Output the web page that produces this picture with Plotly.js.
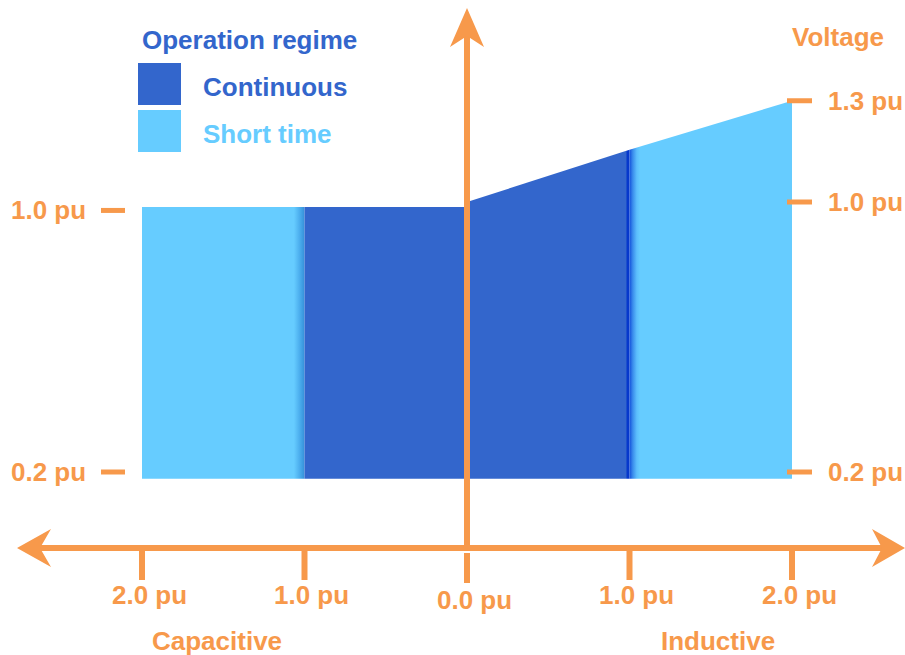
<!DOCTYPE html>
<html><head><meta charset="utf-8">
<script src="https://cdn.plot.ly/plotly-3.0.1.min.js"></script>
<style>html,body{margin:0;padding:0;background:#fff}#chart{width:905px;height:655px}</style>
</head><body><div id="chart"></div>
<script>
// ---- data (pu) ----
const regimeNames = ['Continuous', 'Short time'];
const regimeColors = ['#3366CC', '#66CCFF'];

// operating regions: current (negative = capacitive) vs voltage
const capShortX = [-2.0, -1.0, -1.0, -2.0];
const capShortY = [0.18, 0.18, 0.985, 0.985];
const capContX  = [-1.0, 0.0, 0.0, -1.0];
const capContY  = [0.18, 0.18, 0.985, 0.985];
const indContX  = [0.0, 1.0, 1.0, 0.0];
const indContY  = [0.18, 0.18, 1.155, 1.0];
const indShortX = [1.0, 2.0, 2.0, 1.0];
const indShortY = [0.18, 0.18, 1.3, 1.155];

const currentTickVals = [-2, -1, 0, 1, 2];
const currentTickText = ['2.0 pu', '1.0 pu', '0.0 pu', '1.0 pu', '2.0 pu'];
const leftVoltTickVals = [0.975, 0.2];
const leftVoltTickText = ['1.0 pu', '0.2 pu'];
const rightVoltTickVals = [1.3, 1.0, 0.2];
const rightVoltTickText = ['1.3 pu', '1.0 pu', '0.2 pu'];
const sideLabels = ['Capacitive', 'Inductive'];
const voltageLabel = 'Voltage';
const legendTitle = 'Operation regime';

// ---- layout helpers ----
const W = 905, H = 655;
const ORANGE = '#F7994B';
const FONT = 'Liberation Sans, Arial, Helvetica, sans-serif';
const FS = 26;
const px = v => v / W;            // pixel -> paper x
const py = v => 1 - v / H;        // pixel -> paper y
const P = (x, y) => px(x) + ',' + py(y);

function region(x, y, color, grad) {
  return {
    type: 'scatter', mode: 'lines', x: x, y: y, fill: 'toself',
    fillcolor: color, line: {width: 0, color: color},
    fillgradient: {type: 'horizontal', colorscale: grad},
    hoverinfo: 'skip', showlegend: false
  };
}

const traces = [
  region(capShortX, capShortY, regimeColors[1],
    [[0, '#66CCFF'], [0.935, '#66CCFF'], [0.965, '#4FB2F0'], [1, '#3590DA']]),
  region(capContX, capContY, regimeColors[0],
    [[0, '#3366CC'], [1, '#3366CC']]),
  region(indContX, indContY, regimeColors[0],
    [[0, '#3366CC'], [0.978, '#3366CC'], [0.985, '#0638CC'], [1, '#0638CC']]),
  region(indShortX, indShortY, regimeColors[1],
    [[0, '#1450DA'], [0.02, '#3A8CEC'], [0.045, '#5CBEFC'], [0.065, '#66CCFF'], [1, '#66CCFF']])
];

const shapes = [];
const ann = [];
const lineStyle = (w) => ({color: ORANGE, width: w});
const txt = (s, color) => ({text: '<b>' + s + '</b>', showarrow: false, yanchor: 'middle',
  font: {family: FONT, size: FS, color: color || ORANGE}});

// vertical (voltage) axis with arrow
shapes.push({type: 'line', xref: 'x', yref: 'paper', x0: 0, x1: 0, y0: py(546), y1: py(34), line: lineStyle(6)});
shapes.push({type: 'path', xref: 'paper', yref: 'paper',
  path: 'M' + P(467, 8) + ' L' + P(450, 47) + ' L' + P(467, 36) + ' L' + P(484, 47) + ' Z',
  fillcolor: ORANGE, line: {width: 0}});
// horizontal (current) axis with arrows
shapes.push({type: 'line', xref: 'paper', yref: 'paper', x0: px(38), x1: px(884), y0: py(548), y1: py(548), line: lineStyle(6)});
shapes.push({type: 'path', xref: 'paper', yref: 'paper',
  path: 'M' + P(17, 548) + ' L' + P(51, 529) + ' L' + P(40, 548) + ' L' + P(51, 567) + ' Z',
  fillcolor: ORANGE, line: {width: 0}});
shapes.push({type: 'path', xref: 'paper', yref: 'paper',
  path: 'M' + P(905, 548) + ' L' + P(872, 529) + ' L' + P(882, 548) + ' L' + P(872, 567) + ' Z',
  fillcolor: ORANGE, line: {width: 0}});

// current ticks + labels
currentTickVals.forEach((v, i) => {
  const top = v === 0 ? 553 : 550;
  shapes.push({type: 'line', xref: 'x', yref: 'paper', x0: v, x1: v, y0: py(top), y1: py(top + 30), line: lineStyle(6)});
  ann.push(Object.assign(txt(currentTickText[i]), {xref: 'x', yref: 'paper', x: v,
    y: py(v === 0 ? 600 : 595), xshift: 7, xanchor: 'center'}));
});

// voltage ticks left
leftVoltTickVals.forEach((v, i) => {
  shapes.push({type: 'line', xref: 'paper', yref: 'y', x0: px(101), x1: px(125), y0: v, y1: v, line: lineStyle(5)});
  ann.push(Object.assign(txt(leftVoltTickText[i]), {xref: 'paper', yref: 'y', x: px(48), y: v, xanchor: 'center'}));
});
// voltage ticks right
rightVoltTickVals.forEach((v, i) => {
  shapes.push({type: 'line', xref: 'paper', yref: 'y', x0: px(787), x1: px(812), y0: v, y1: v, line: lineStyle(5)});
  ann.push(Object.assign(txt(rightVoltTickText[i]), {xref: 'paper', yref: 'y', x: px(865), y: v, xanchor: 'center'}));
});

ann.push(Object.assign(txt(voltageLabel), {xref: 'paper', yref: 'paper', x: px(838), y: py(37), xanchor: 'center'}));
ann.push(Object.assign(txt(sideLabels[0]), {xref: 'paper', yref: 'paper', x: px(217), y: py(641), xanchor: 'center'}));
ann.push(Object.assign(txt(sideLabels[1]), {xref: 'paper', yref: 'paper', x: px(718), y: py(641), xanchor: 'center'}));

// legend (manual)
ann.push(Object.assign(txt(legendTitle, regimeColors[0]), {xref: 'paper', yref: 'paper', x: px(140), y: py(40), xanchor: 'left'}));
const swatchTop = [63, 110];
regimeNames.forEach((name, i) => {
  shapes.push({type: 'rect', xref: 'paper', yref: 'paper', x0: px(138), x1: px(181),
    y0: py(swatchTop[i]), y1: py(swatchTop[i] + 42), fillcolor: regimeColors[i], line: {width: 0}});
  ann.push(Object.assign(txt(name, regimeColors[i]), {xref: 'paper', yref: 'paper', x: px(201),
    y: py(swatchTop[i] + 24), xanchor: 'left'}));
});

// scales: x -> 162.5 px per pu with 0 at 467px; y -> 337.5 px per pu with 0.2 at 472px
const xr = [-467 / 162.5, (W - 467) / 162.5];
const yr = [0.2 - (H - 472) / 337.5, 0.2 + 472 / 337.5];

const layout = {
  width: W, height: H,
  margin: {l: 0, r: 0, t: 0, b: 0, pad: 0},
  paper_bgcolor: '#ffffff', plot_bgcolor: '#ffffff',
  xaxis: {range: xr, visible: false, fixedrange: true},
  yaxis: {range: yr, visible: false, fixedrange: true},
  shapes: shapes, annotations: ann, showlegend: false
};

Plotly.newPlot('chart', traces, layout, {displayModeBar: false, staticPlot: true});
</script>
</body></html>
